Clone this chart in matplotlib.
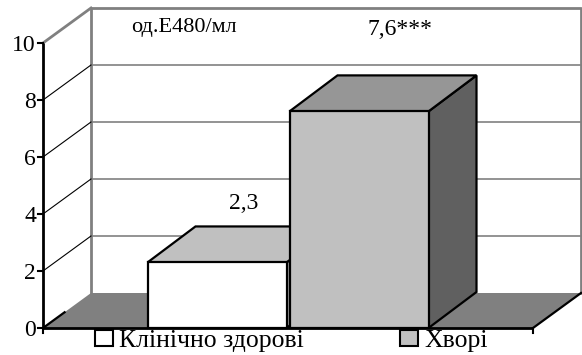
import matplotlib
matplotlib.use('Agg')
import matplotlib.pyplot as plt
from matplotlib.patches import Polygon, Patch

# ---- data ----
series_names = ['Клінічно здорові', 'Хворі']
values = [2.3, 7.6]
value_labels = ['2,3', '7,6***']
y_ticks = [0, 2, 4, 6, 8, 10]
unit_label = 'од.Е480/мл'

# ---- styles / layout ----
front_colors = ['#FFFFFF', '#C0C0C0']
top_colors = ['#C0C0C0', '#969696']
side_colors = ['#A0A0A0', '#606060']
floor_color = '#808080'
wall_gray = '#808080'
SERIF = ['Liberation Serif', 'DejaVu Serif']

plt.rcParams['font.family'] = SERIF

PX_PER_UNIT = 28.5
X0, X1 = 43, 533          # front floor extent (px-like x units)
DX = 48                   # depth offset in x
DY = 35 / PX_PER_UNIT     # depth offset in value units
BDY = 36 / PX_PER_UNIT    # bar depth offset in value units
BAR_W, GAP = 139, 3
TICK = 5
VMAX = y_ticks[-1]
label_offsets = [(27, 1.86), (41, 2.68)]   # (dx px, dy value) for value labels
legend_left_px = [95, 400]
legend_y_px = 341
FIG_W, FIG_H = 582, 355

fig = plt.figure(figsize=(FIG_W / 100, FIG_H / 100), dpi=100)
ax = fig.add_axes([0, 0, 1, 1])
ax.set_xlim(0, FIG_W)
ax.set_ylim(-27 / PX_PER_UNIT, 328 / PX_PER_UNIT)
ax.axis('off')

# back wall gridlines
for t in y_ticks[1:-1]:
    ax.plot([X0 + DX, X1 + DX], [t + DY, t + DY], color=wall_gray, lw=1.2, zorder=1)
# back wall frame
ax.plot([X0 + DX, X0 + DX, X1 + DX, X1 + DX],
        [DY, VMAX + DY, VMAX + DY, DY], color=wall_gray, lw=2, zorder=1)
# left wall diagonals
for t in y_ticks[1:-1]:
    ax.plot([X0, X0 + DX], [t, t + DY], color='black', lw=0.8, zorder=1)
ax.plot([X0, X0 + DX], [VMAX, VMAX + DY], color=wall_gray, lw=2, zorder=1)

# floor
ax.add_patch(Polygon([(X0, 0), (X1, 0), (X1 + DX, DY), (X0 + DX, DY)],
                     closed=True, facecolor=floor_color, edgecolor='none', zorder=2))
ax.plot([X0, X0 + DX * 0.45], [0, DY * 0.45], color='black', lw=1.6, zorder=3)
ax.plot([X1, X1 + DX], [0, DY], color='black', lw=1.6, zorder=3)

# bars
center = (X0 + X1) / 2
n = len(values)
lefts = [center - (n * BAR_W + (n - 1) * GAP) / 2 + i * (BAR_W + GAP) for i in range(n)]
for i, (v, left) in enumerate(zip(values, lefts)):
    right = left + BAR_W
    z = 4 + i
    kw = dict(closed=True, edgecolor='black', lw=1.6, joinstyle='miter', zorder=z)
    ax.add_patch(Polygon([(right, 0), (right + DX, BDY), (right + DX, v + BDY), (right, v)],
                         facecolor=side_colors[i], **kw))
    ax.add_patch(Polygon([(left, v), (right, v), (right + DX, v + BDY), (left + DX, v + BDY)],
                         facecolor=top_colors[i], **kw))
    ax.add_patch(Polygon([(left, 0), (right, 0), (right, v), (left, v)],
                         facecolor=front_colors[i], **kw))
    ox, oy = label_offsets[i]
    ax.text(left + BAR_W / 2 + ox, v + oy, value_labels[i], ha='center', va='baseline',
            fontsize=17, zorder=10)

# front axes
ax.plot([X0, X0], [0, VMAX], color='black', lw=2, zorder=8, solid_capstyle='butt')
ax.plot([X0, X1], [0, 0], color='black', lw=2, zorder=8, solid_capstyle='butt')
for t in y_ticks:
    ax.plot([X0 - TICK, X0], [t, t], color='black', lw=1.5, zorder=8)
    ax.text(X0 - TICK - 2, t, str(t), ha='right', va='center_baseline', fontsize=17, zorder=8)
for xt in (X0, X1):
    ax.plot([xt, xt], [0, -TICK / PX_PER_UNIT], color='black', lw=1.5, zorder=8)

ax.text(184, 10.40, unit_label, ha='center', va='baseline', fontsize=16, zorder=10)

for i in range(n):
    h = Patch(facecolor=front_colors[i], edgecolor='black', lw=1.5)
    fig.legend(handles=[h], labels=[series_names[i]], loc='center left',
               bbox_to_anchor=(legend_left_px[i] / FIG_W, 1 - legend_y_px / FIG_H),
               frameon=False, prop={'family': SERIF, 'size': 18.5},
               handlelength=0.7, handleheight=0.55,
               handletextpad=0.25, borderpad=0, borderaxespad=0)

fig.savefig('out.png', dpi=100)
